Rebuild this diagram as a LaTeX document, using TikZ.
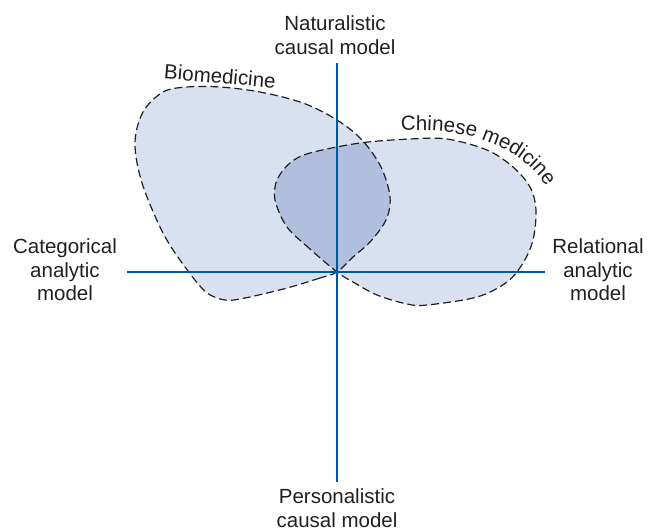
\documentclass[tikz,border=0pt]{standalone}
\usepackage{fontspec}
\setmainfont{Liberation Sans}
\usetikzlibrary{decorations.text}
\definecolor{axisblue}{RGB}{0,88,160}
\definecolor{lightfill}{RGB}{217,225,240}
\definecolor{darkfill}{RGB}{175,191,221}
\definecolor{txt}{RGB}{35,31,32}
\newcommand{\lblfont}{\fontsize{20.5}{23.5}\selectfont}
\tikzset{
  lbl/.style={font=\lblfont, align=center, text=txt, inner sep=0pt},
  axis/.style={draw=axisblue, line width=1.3pt},
  region/.style={draw=txt, line width=1.2pt, dash pattern=on 8pt off 4pt},
}
\begin{document}
\begin{tikzpicture}[x=1pt, y=-1pt]
\useasboundingbox (0,0) rectangle (650,531);

% outlines of the two explanatory domains
\def\biopath{plot[smooth cycle, tension=0.55] coordinates {
  (337,272) (320,278) (287,288) (245,298) (225,300) (206,292) (185,267) (163,233)
  (142,183) (135,143) (143,112) (163,92) (187,87) (220,87) (260,92) (303,103)
  (337,120) (362,140) (381,167) (390,197) (386,220) (370,242) (353,257)}}
\def\chnpath{plot[smooth cycle, tension=0.55] coordinates {
  (337,272) (310,249) (287,227) (275,200) (277,180) (290,163) (310,153) (360,143)
  (410,139) (447,139) (487,150) (513,167) (530,187) (536,210) (533,240) (523,263)
  (507,282) (477,297) (427,305) (407,304) (377,295) (353,282)}}

\fill[lightfill] \biopath;
\fill[lightfill] \chnpath;
\begin{scope}
  \clip \biopath;
  \fill[darkfill] \chnpath;
\end{scope}
\draw[region] \biopath;
\draw[region] \chnpath;

% axes
\coordinate (top) at (337,63);
\coordinate (bottom) at (337,482);
\coordinate (left) at (127,272);
\coordinate (right) at (545,272);
\draw[axis] (top) -- (bottom);
\draw[axis] (left) -- (right);

% axis labels
\node[lbl] (nat) at (335,35) {Naturalistic\\causal model};
\node[lbl] (pers) at (337,508) {Personalistic\\causal model};
\node[lbl] (cat) at (65,270) {Categorical\\analytic\\model};
\node[lbl] (rel) at (598,270) {Relational\\analytic\\model};

% domain labels
\node[lbl, rotate=-5] (bio) at (220,76) {Biomedicine};
\path[decorate, decoration={text along path, text align=left,
  text={|\lblfont\color{txt}|Chinese medicine}}]
  (401,131) .. controls (470,127) and (532,146) .. (558,208);
\end{tikzpicture}
\end{document}
